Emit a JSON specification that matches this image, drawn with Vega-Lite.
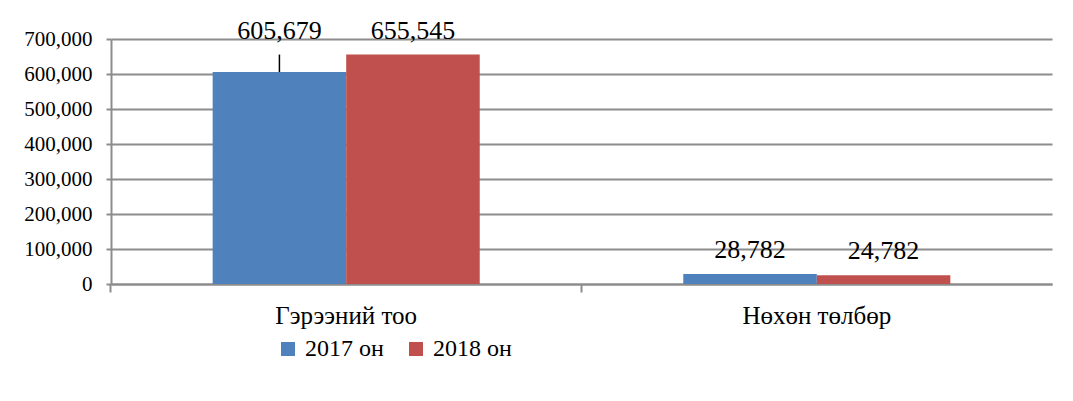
{
  "$schema": "https://vega.github.io/schema/vega-lite/v6.json",
  "autosize": "none",
  "width": 941,
  "height": 245,
  "padding": {"left": 111, "top": 39, "right": 21, "bottom": 117},
  "background": "white",
  "data": {
    "values": [
      {"cat": "Гэрээний тоо", "year": "2017 он", "value": 605679, "labelAt": 655545},
      {"cat": "Гэрээний тоо", "year": "2018 он", "value": 655545, "labelAt": 655545},
      {"cat": "Нөхөн төлбөр", "year": "2017 он", "value": 28782, "labelAt": 28782},
      {"cat": "Нөхөн төлбөр", "year": "2018 он", "value": 24782, "labelAt": 24782}
    ]
  },
  "encoding": {
    "x": {
      "field": "cat",
      "type": "nominal",
      "sort": null,
      "title": null,
      "scale": {"paddingInner": 0.4325, "paddingOuter": 0.216},
      "axis": {
        "bandPosition": -0.381,
        "labelAngle": 0,
        "labelFont": "'Liberation Serif', 'DejaVu Serif', serif",
        "labelFontSize": 25,
        "labelColor": "black",
        "labelPadding": 11,
        "labelBound": false,
        "labelOverlap": false,
        "labelFlush": false,
        "domainColor": "#8c8c8c",
        "domainWidth": 2,
        "tickColor": "#8c8c8c",
        "tickWidth": 2,
        "tickSize": 8,
        "grid": false
      }
    },
    "xOffset": {"field": "year", "type": "nominal", "scale": {"paddingInner": 0, "paddingOuter": 0}}
  },
  "layer": [
    {
      "mark": {"type": "bar"},
      "encoding": {
        "y": {
          "field": "value",
          "type": "quantitative",
          "title": null,
          "scale": {"domain": [0, 700000], "nice": false, "zero": true},
          "axis": {
            "values": [0, 100000, 200000, 300000, 400000, 500000, 600000, 700000],
            "format": ",.0f",
            "labelFont": "'Liberation Serif', 'DejaVu Serif', serif",
            "labelFontSize": 21,
            "labelColor": "black",
            "labelPadding": 14,
            "labelOverlap": false,
            "domainColor": "#8c8c8c",
            "domainWidth": 2,
            "tickColor": "#8c8c8c",
            "tickWidth": 2,
            "tickSize": 5,
            "grid": true,
            "gridColor": "#8c8c8c",
            "gridWidth": 2
          }
        },
        "color": {
          "field": "year",
          "type": "nominal",
          "title": null,
          "scale": {"range": ["#4F81BD", "#C0504D"]},
          "legend": {
            "orient": "none",
            "legendX": 165,
            "legendY": 298,
            "direction": "horizontal",
            "columns": 2,
            "symbolType": "square",
            "symbolSize": 196,
            "symbolStrokeWidth": 0,
            "symbolOpacity": 1,
            "labelFont": "'Liberation Serif', 'DejaVu Serif', serif",
            "labelFontSize": 24,
            "labelColor": "black",
            "labelOffset": 5,
            "columnPadding": 20
          }
        }
      }
    },
    {
      "transform": [{"filter": "datum.labelAt != datum.value"}],
      "mark": {"type": "rule", "color": "black", "strokeWidth": 1.5},
      "encoding": {
        "y": {
          "field": "value",
          "type": "quantitative",
          "title": null,
          "axis": {
            "values": [0, 100000, 200000, 300000, 400000, 500000, 600000, 700000],
            "format": ",.0f",
            "labelFont": "'Liberation Serif', 'DejaVu Serif', serif",
            "labelFontSize": 21,
            "labelColor": "black",
            "labelPadding": 14,
            "labelOverlap": false,
            "domainColor": "#8c8c8c",
            "domainWidth": 2,
            "tickColor": "#8c8c8c",
            "tickWidth": 2,
            "tickSize": 5,
            "grid": true,
            "gridColor": "#8c8c8c",
            "gridWidth": 2
          }
        },
        "y2": {"field": "labelAt"}
      }
    },
    {
      "mark": {
        "type": "text",
        "font": "'Liberation Serif', 'DejaVu Serif', serif",
        "fontSize": 26,
        "color": "black",
        "baseline": "alphabetic",
        "dy": -16
      },
      "encoding": {
        "y": {
          "field": "labelAt",
          "type": "quantitative",
          "title": null,
          "axis": {
            "values": [0, 100000, 200000, 300000, 400000, 500000, 600000, 700000],
            "format": ",.0f",
            "labelFont": "'Liberation Serif', 'DejaVu Serif', serif",
            "labelFontSize": 21,
            "labelColor": "black",
            "labelPadding": 14,
            "labelOverlap": false,
            "domainColor": "#8c8c8c",
            "domainWidth": 2,
            "tickColor": "#8c8c8c",
            "tickWidth": 2,
            "tickSize": 5,
            "grid": true,
            "gridColor": "#8c8c8c",
            "gridWidth": 2
          }
        },
        "text": {"field": "value", "type": "quantitative", "format": ",.0f"}
      }
    }
  ],
  "config": {"view": {"stroke": null}, "font": "'Liberation Serif', 'DejaVu Serif', serif"}
}
